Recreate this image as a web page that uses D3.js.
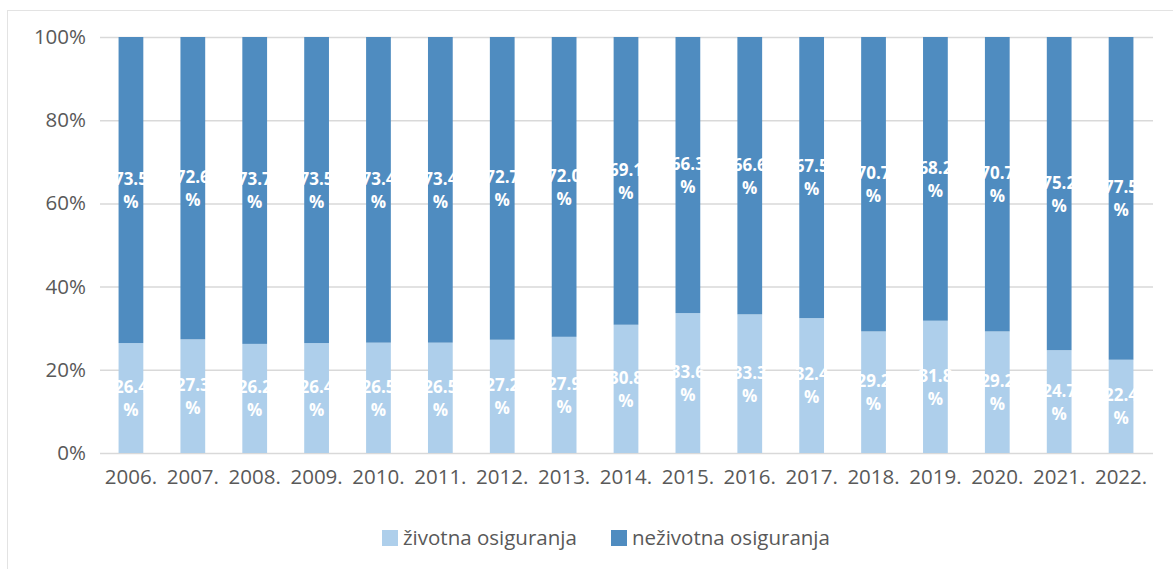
<!DOCTYPE html>
<html><head><meta charset="utf-8">
<script src="https://cdn.jsdelivr.net/npm/d3@7"></script>
<style>body{margin:0;background:#fff}svg{display:block}</style>
</head><body>
<svg id="c" width="1173" height="569"></svg>
<script>
const years = ["2006.","2007.","2008.","2009.","2010.","2011.","2012.","2013.","2014.","2015.","2016.","2017.","2018.","2019.","2020.","2021.","2022."];
const zivotna = [26.4,27.3,26.2,26.4,26.5,26.5,27.2,27.9,30.8,33.6,33.3,32.4,29.2,31.8,29.2,24.7,22.4];
const nezivotna = [73.5,72.6,73.7,73.5,73.4,73.4,72.7,72.0,69.1,66.3,66.6,67.5,70.7,68.2,70.7,75.2,77.5];
const yTicks = [0,20,40,60,80,100];
const seriesNames = ["životna osiguranja","neživotna osiguranja"];
const colors = ["#aecfeb","#4f8cc0"];

const svg = d3.select("#c");
const font = "'Open Sans', 'Noto Sans', sans-serif";
svg.append("rect").attr("x",7.5).attr("y",10.5).attr("width",1200).attr("height",600)
  .attr("fill","none").attr("stroke","#e3e3e3");

const x = d3.scaleBand().domain(years).range([100,1152]).paddingInner(0.6).paddingOuter(0.3);
const y = d3.scaleLinear().domain([0,100]).range([453,37]);

// gridlines
svg.append("g").selectAll("line").data(yTicks).join("line")
  .attr("x1",100).attr("x2",1153).attr("y1",d=>y(d)+0.5).attr("y2",d=>y(d)+0.5)
  .attr("stroke","#d9d9d9").attr("stroke-width",1.5);

// y axis labels
const yAxis = d3.axisLeft(y).tickValues(yTicks).tickFormat(d=>d+"%").tickSize(0).tickPadding(0);
const yg = svg.append("g").attr("transform","translate(86,0)").call(yAxis);
yg.select(".domain").remove();
yg.selectAll("text").attr("font-family",font).attr("font-size",20.5).attr("fill","#595959");

// x axis labels
const xAxis = d3.axisBottom(x).tickSize(0).tickPadding(0);
const xg = svg.append("g").attr("transform","translate(0,469)").call(xAxis);
xg.select(".domain").remove();
xg.selectAll("text").attr("font-family",font).attr("font-size",20.5).attr("fill","#595959");

// stacked data
const rows = years.map((yr,i)=>({year:yr, z:zivotna[i], n:nezivotna[i]}));
const totals = rows.map(r=>r.z+r.n);

const segs = [];
rows.forEach((r,i)=>{
  const t = totals[i];
  const z1 = r.z/t*100;
  segs.push({year:r.year, y0:0, y1:z1, v:r.z, s:0});
  segs.push({year:r.year, y0:z1, y1:100, v:r.n, s:1});
});

svg.append("g").selectAll("rect").data(segs).join("rect")
  .attr("x",d=>x(d.year)).attr("width",x.bandwidth())
  .attr("y",d=>y(d.y1)).attr("height",d=>y(d.y0)-y(d.y1))
  .attr("fill",d=>colors[d.s]);

// labels (wrapped onto two lines as in the original)
const lg = svg.append("g").attr("font-family",font).attr("font-size",17).attr("font-weight","bold")
  .attr("fill","#fff").attr("text-anchor","middle");
segs.forEach(d=>{
  const cx = x(d.year)+x.bandwidth()/2;
  const cy = (y(d.y0)+y(d.y1))/2;
  lg.append("text").attr("x",cx).attr("y",cy-11).attr("dy","0.35em").text(d.v.toFixed(1));
  lg.append("text").attr("x",cx).attr("y",cy+12).attr("dy","0.35em").text("%");
});

// legend
const leg = svg.append("g").attr("font-family",font).attr("font-size",20.5).attr("fill","#595959");
const legX = [382,611];
seriesNames.forEach((n,i)=>{
  leg.append("rect").attr("x",legX[i]).attr("y",530).attr("width",16).attr("height",16).attr("fill",colors[i]);
  leg.append("text").attr("x",legX[i]+21).attr("y",538).attr("dy","0.35em").text(n);
});
</script>
</body></html>
